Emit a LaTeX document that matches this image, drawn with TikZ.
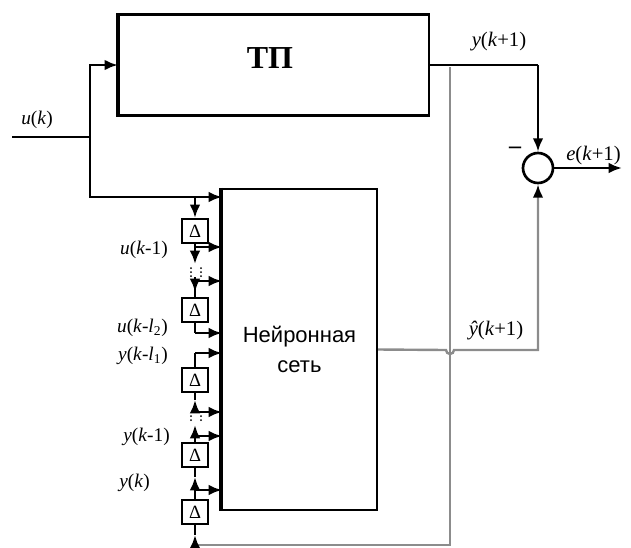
\documentclass[tikz,border=0pt]{standalone}
\usepackage{fontspec}
\setmainfont{Liberation Serif}
\newfontfamily\sansf{Liberation Sans}
\usetikzlibrary{arrows.meta}
\begin{document}
\begin{tikzpicture}[x=0.75pt,y=-0.75pt,
  wire/.style={line width=2pt},
  gwire/.style={line width=1.8pt,draw=black!45},
  arr/.style={-{Latex[length=10pt,width=8pt]}},
  dbox/.style={draw,line width=1.6pt,minimum width=19.5pt,minimum height=18pt,inner sep=0pt,font=\fontsize{14}{14}\selectfont},
  lbl/.style={font=\fontsize{14.5}{16}\selectfont,inner sep=0pt},
  rlbl/.style={font=\fontsize{15.5}{17}\selectfont,inner sep=0pt},
  dotmark/.style={fill=black},
  bigbox/.style={draw,line width=1.6pt,inner sep=0pt},
  thickedge/.style={line width=3.4pt}]
\useasboundingbox (0,0) rectangle (631,547);

% blocks
\node[bigbox,minimum width=232.5pt,minimum height=75.75pt] (tp) at (274,65) {};
\node[font=\fontsize{24}{26}\selectfont\bfseries] (tptext) at (270,58) {ТП};
\node[bigbox,minimum width=116.25pt,minimum height=240.75pt,align=center,
      font=\sansf\fontsize{16.5}{22}\selectfont] (nn) at (299.5,349.5) {Нейронная\\сеть};
\draw[thickedge] (tp.north west) -- (tp.south west);
\draw[thickedge] (nn.north west) -- (nn.south west);
\node[draw,circle,line width=2pt,minimum size=22.5pt,inner sep=0pt] (sum) at (538,168) {};

% delay boxes
\node[dbox] (d1) at (195,231) {Δ};
\node[dbox] (d2) at (195,310) {Δ};
\node[dbox] (d3) at (195,380) {Δ};
\node[dbox] (d4) at (195,455) {Δ};
\node[dbox] (d5) at (195,512) {Δ};

% coordinates
\coordinate (uin) at (12,137);
\coordinate (j1) at (90,137);
\coordinate (nin) at (222,197);
\coordinate (ju0) at (195,197);
\coordinate (b1) at (195,247);
\coordinate (nb1) at (222,247);
\coordinate (a1) at (195,264);
\coordinate (c1) at (195,277);
\coordinate (b2) at (195,281);
\coordinate (nb2) at (222,281);
\coordinate (a2) at (195,292);
\coordinate (b3) at (195,333);
\coordinate (nb3) at (222,333);
\coordinate (b4) at (195,353);
\coordinate (nb4) at (222,353);
\coordinate (b5) at (195,412);
\coordinate (nb5) at (222,412);
\coordinate (a5) at (195,400);
\coordinate (b6) at (195,436);
\coordinate (nb6) at (222,436);
\coordinate (a6) at (195,425);
\coordinate (b7) at (195,490);
\coordinate (nb7) at (222,490);
\coordinate (a7) at (195,477);
\coordinate (fb0) at (450,67);
\coordinate (fb1) at (450,545);
\coordinate (fb2) at (195,545);
\coordinate (a8) at (195,535);
\coordinate (tpo) at (538,65);
\coordinate (eout) at (622,168);
\coordinate (h1) at (446,350);
\coordinate (yo) at (538,350);
\coordinate (yo2) at (538,192);

% input u(k)
\draw[wire] (uin) -- (j1);
\draw[wire,arr] (j1) |- (tp.west);
\draw[wire,arr] (j1) |- (nin);
\draw[wire,arr] (ju0) -- (d1.north);

% u delay chain
\draw[wire] (d1.south) -- (b1);
\draw[wire,arr] (b1) -- (nb1);
\draw[wire,arr] (b1) -- (a1);
\foreach \yy in {268,272,276} {\fill[dotmark] (191,\yy) circle[radius=1]; \fill[dotmark] (201,\yy) circle[radius=1];}
\draw[wire] (c1) -- (d2.north);
\draw[wire,arr] (c1) -- (a2);
\draw[wire,arr] (b2) -- (nb2);
\draw[wire] (d2.south) -- (b3);
\draw[wire,arr] (b3) -- (nb3);

% y delay chain
\draw[wire] (d3.north) -- (b4);
\draw[wire,arr] (b4) -- (nb4);
\draw[wire,arr] (b5) -- (a5);
\draw[wire] (a5) -- (d3.south);
\draw[wire,arr] (b5) -- (nb5);
\foreach \yy in {416,420} {\fill[dotmark] (191,\yy) circle[radius=1]; \fill[dotmark] (201,\yy) circle[radius=1];}
\draw[wire,arr] (d4.north) -- (a6);
\draw[wire,arr] (b6) -- (nb6);
\draw[wire,arr] (d5.north) -- (a7);
\draw[wire] (a7) -- (d4.south);
\draw[wire,arr] (b7) -- (nb7);

% feedback y(k+1)
\draw[wire] (tp.east) -- (tpo);
\draw[wire,arr] (tpo) -- (sum.north);
\draw[gwire] (fb0) -- (fb1) -- (fb2);
\draw[wire,arr] (fb2) -- (a8);
\draw[wire] (a8) -- (d5.south);

% NN output
\draw[gwire] (nn.east) -- (h1) arc[start angle=180,end angle=0,radius=4] -- (yo) -- (yo2);
\draw[wire,arr] (yo2) -- (sum.south);

% error output
\draw[wire,arr] (sum.east) -- (eout);

% labels
\node[lbl] (lu) at (37,120) {\textit{u}(\textit{k})};
\node[rlbl] (ly) at (499,42) {\textit{y}(\textit{k}+1)};
\node[rlbl,anchor=west] (le) at (566,156) {\textit{e}(\textit{k}+1)};
\node[lbl,font=\fontsize{18}{18}\selectfont\bfseries] (lm) at (515,150) {–};
\node[rlbl] (lyh) at (496,331) {\textit{\^{y}}(\textit{k}+1)};
\node[lbl,anchor=east] (l1) at (168,250) {\textit{u}(\textit{k}-1)};
\node[lbl,anchor=east] (l2) at (168,328) {\textit{u}(\textit{k}-\textit{l}\textsubscript{2})};
\node[lbl,anchor=east] (l3) at (168,356) {\textit{y}(\textit{k}-\textit{l}\textsubscript{1})};
\node[lbl,anchor=east] (l4) at (170,437) {\textit{y}(\textit{k}-1)};
\node[lbl,anchor=east] (l5) at (150,483) {\textit{y}(\textit{k})};
\end{tikzpicture}
\end{document}
